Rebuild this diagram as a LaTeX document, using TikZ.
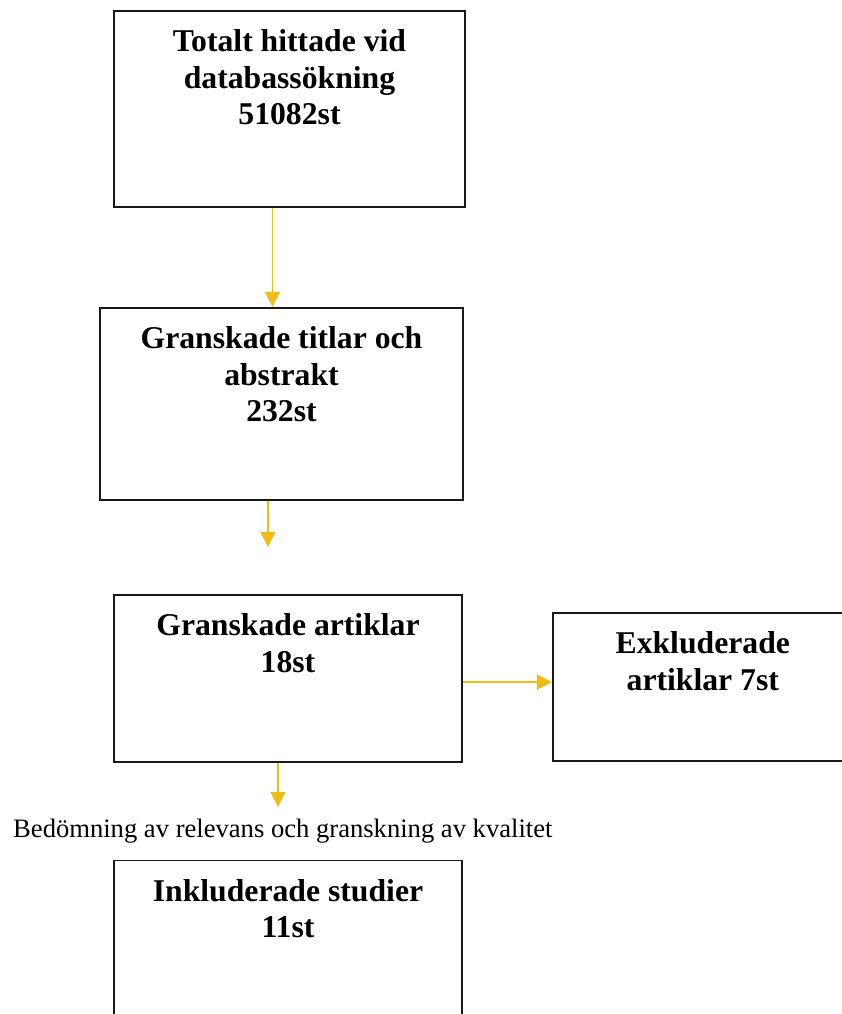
\documentclass[tikz,border=0pt]{standalone}
\usepackage{fontspec}
\setmainfont{Liberation Serif}
\usepackage{tikz}
\usetikzlibrary{positioning,arrows.meta}

\definecolor{pilgul}{RGB}{238,189,22}
\newcommand{\rutatext}[3]{\parbox[c][#2][t]{#1}{\centering\rule{0pt}{41pt}#3}}

\begin{document}
\begin{tikzpicture}[
    x=1pt, y=-1pt,
    ruta/.style={rectangle, draw=black!90, line width=1.8pt, inner sep=0pt,
        font=\fontsize{31.7}{36.5}\selectfont\bfseries},
    pil/.style={-{Triangle[width=15pt,length=15pt]}, draw=pilgul, line width=1.5pt}
]
\useasboundingbox (0,0) rectangle (841,1014);

\node[ruta] (totalt) at (289.5,109) {\rutatext{351pt}{196pt}{Totalt hittade vid\\databassökning\\51082st}};
\node[ruta, below=99pt of totalt, xshift=-8pt] (titlar) {\rutatext{363pt}{192pt}{Granskade titlar och\\abstrakt\\232st}};
\node[ruta, below=93pt of titlar, xshift=6.5pt] (artiklar) {\rutatext{348pt}{167pt}{Granskade artiklar\\18st}};
\node[ruta, right=89pt of artiklar, yshift=-8.5pt] (exkl) {\rutatext{300pt}{148pt}{Exkluderade\\artiklar 7st}};
\node[ruta, below=97pt of artiklar] (inkl) {\rutatext{348pt}{180pt}{Inkluderade studier\\11st}};
\node[anchor=base west, inner sep=0pt, font=\fontsize{26.6}{30}\selectfont] (bedomning) at (13,837) {Bedömning av relevans och granskning av kvalitet};

\coordinate (slut2) at (268,547);
\coordinate (slut4) at (278,807);

\draw[pil] ([xshift=-17pt]totalt.south) -- ([xshift=-17pt]totalt.south |- titlar.north);
\draw[pil] (titlar.south -| slut2) -- (slut2);
\draw[pil] ([yshift=-4pt]artiklar.east) -- ([yshift=-4pt]artiklar.east -| exkl.west);
\draw[pil] (artiklar.south -| slut4) -- (slut4);
\end{tikzpicture}
\end{document}
